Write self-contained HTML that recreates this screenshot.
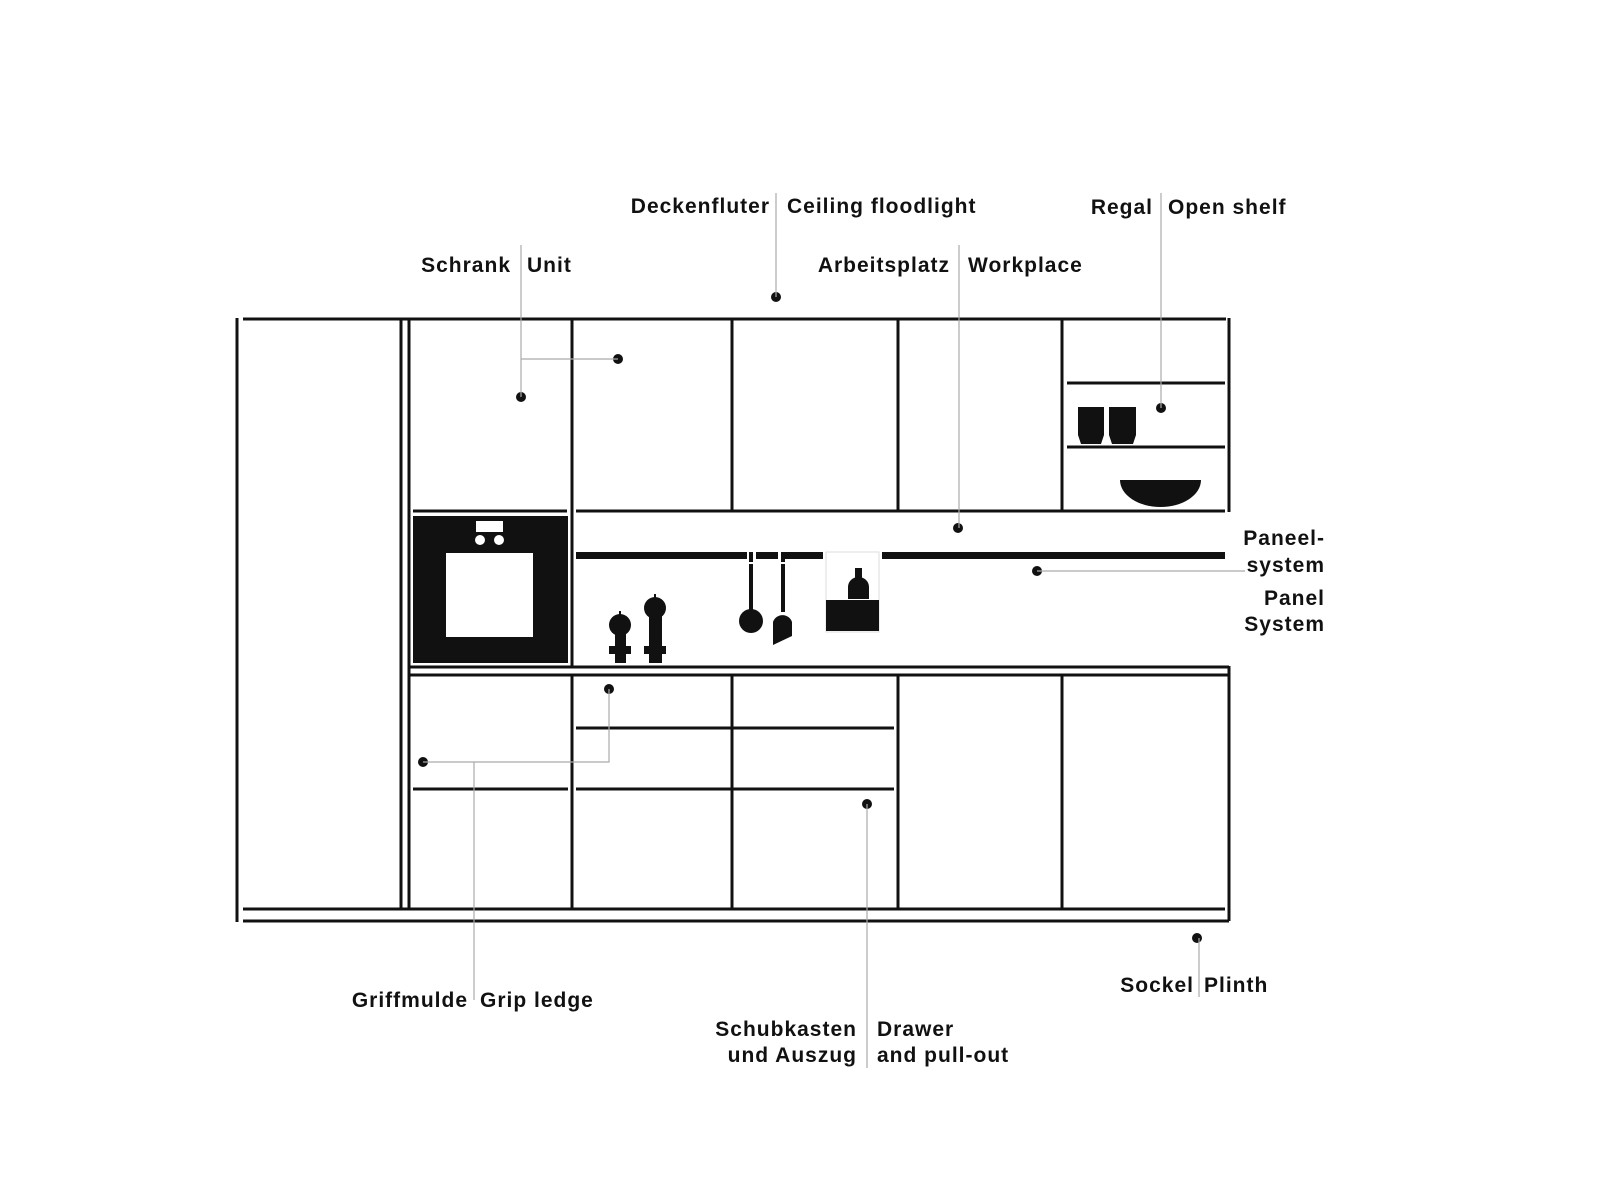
<!DOCTYPE html>
<html><head><meta charset="utf-8"><style>
html,body{margin:0;padding:0;background:#fff;}
svg{display:block;}
text{font-family:"Liberation Sans",sans-serif;font-weight:bold;font-size:21px;fill:#111;letter-spacing:1px;}
</style></head><body>
<svg width="1600" height="1200" viewBox="0 0 1600 1200" xmlns="http://www.w3.org/2000/svg">
<g stroke="#111" stroke-width="3" fill="none">
<line x1="237" y1="318" x2="237" y2="922"/>
<line x1="243" y1="319" x2="1226" y2="319"/>
<line x1="1229" y1="318" x2="1229" y2="512"/>
<line x1="1229" y1="666" x2="1229" y2="921"/>
<line x1="401" y1="319" x2="401" y2="909"/>
<line x1="409" y1="319" x2="409" y2="909"/>
<line x1="572" y1="319" x2="572" y2="667"/>
<line x1="732" y1="319" x2="732" y2="511"/>
<line x1="898" y1="319" x2="898" y2="511"/>
<line x1="1062" y1="319" x2="1062" y2="511"/>
<line x1="572" y1="675" x2="572" y2="909"/>
<line x1="732" y1="675" x2="732" y2="909"/>
<line x1="898" y1="675" x2="898" y2="909"/>
<line x1="1062" y1="675" x2="1062" y2="909"/>
<line x1="576" y1="511" x2="1225" y2="511"/>
<line x1="413" y1="511" x2="567" y2="511"/>
<line x1="409" y1="667" x2="1229" y2="667"/>
<line x1="409" y1="675" x2="1229" y2="675"/>
<line x1="243" y1="909" x2="1225" y2="909"/>
<line x1="243" y1="921" x2="1229" y2="921"/>
<line x1="1067" y1="383" x2="1225" y2="383"/>
<line x1="1067" y1="447" x2="1225" y2="447"/>
<line x1="576" y1="728" x2="894" y2="728"/>
<line x1="576" y1="789" x2="894" y2="789"/>
<line x1="413" y1="789" x2="568" y2="789"/>
</g>
<g fill="#111">
<rect x="413" y="516" width="155" height="147"/>
<rect x="446" y="553" width="87" height="84" fill="#fff"/>
<rect x="476" y="521" width="27" height="11" fill="#fff"/>
<circle cx="480" cy="540" r="5" fill="#fff"/>
<circle cx="499" cy="540" r="5" fill="#fff"/>
<rect x="576" y="552" width="171" height="7"/>
<rect x="756" y="552" width="22" height="7"/>
<rect x="785" y="552" width="38" height="7"/>
<rect x="882" y="552" width="343" height="7"/>
<rect x="749" y="552" width="4" height="10"/>
<rect x="781" y="552" width="4" height="10"/>
<rect x="749" y="564" width="4" height="48"/>
<circle cx="751" cy="621" r="12"/>
<rect x="781" y="564" width="4" height="48"/>
<path d="M773 622 A10 10 0 0 1 792 622 L792 636 L773 645 Z"/>
<rect x="826" y="552" width="53" height="80" fill="none" stroke="#ddd" stroke-width="1"/>
<rect x="826" y="600" width="53" height="31"/>
<rect x="855" y="568" width="7" height="10"/>
<path d="M848 599 L848 587 A10.5 10 0 0 1 869 587 L869 599 Z"/>
<circle cx="620" cy="625" r="11"/>
<rect x="615" y="620" width="11" height="43"/>
<rect x="609" y="646" width="22" height="8"/>
<rect x="619" y="611" width="2" height="4"/>
<circle cx="655" cy="608" r="11"/>
<rect x="649" y="608" width="13" height="55"/>
<rect x="644" y="646" width="22" height="8"/>
<rect x="654" y="594" width="2" height="4"/>
<path d="M1078 407 L1104 407 L1104 435 L1101 444 L1081 444 L1078 435 Z"/>
<path d="M1109 407 L1136 407 L1136 435 L1133 444 L1112 444 L1109 435 Z"/>
<path d="M1120 480 L1201 480 A40.5 27 0 0 1 1120 480 Z"/>
<circle cx="776" cy="297" r="5"/>
<circle cx="521" cy="397" r="5"/>
<circle cx="618" cy="359" r="5"/>
<circle cx="1161" cy="408" r="5"/>
<circle cx="958" cy="528" r="5"/>
<circle cx="1037" cy="571" r="5"/>
<circle cx="609" cy="689" r="5"/>
<circle cx="423" cy="762" r="5"/>
<circle cx="867" cy="804" r="5"/>
<circle cx="1197" cy="938" r="5"/>
</g>
<g stroke="#aaa" stroke-width="1.2" fill="none">
<line x1="776" y1="193" x2="776" y2="297"/>
<polyline points="521,245 521,397"/>
<line x1="521" y1="359" x2="618" y2="359"/>
<line x1="959" y1="245" x2="959" y2="528"/>
<line x1="1161" y1="193" x2="1161" y2="408"/>
<line x1="1037" y1="571" x2="1245" y2="571"/>
<polyline points="423,762 609,762 609,689"/>
<line x1="474" y1="762" x2="474" y2="1000"/>
<line x1="867" y1="804" x2="867" y2="1068"/>
<line x1="1199" y1="938" x2="1199" y2="997"/>
</g>
<text x="770" y="213" text-anchor="end">Deckenfluter</text>
<text x="787" y="213">Ceiling floodlight</text>
<text x="1153" y="214" text-anchor="end">Regal</text>
<text x="1168" y="214">Open shelf</text>
<text x="511" y="272" text-anchor="end">Schrank</text>
<text x="527" y="272">Unit</text>
<text x="950" y="272" text-anchor="end">Arbeitsplatz</text>
<text x="968" y="272">Workplace</text>
<text x="1325" y="545" text-anchor="end">Paneel-</text>
<text x="1325" y="572" text-anchor="end">system</text>
<text x="1325" y="605" text-anchor="end">Panel</text>
<text x="1325" y="631" text-anchor="end">System</text>
<text x="468" y="1007" text-anchor="end">Griffmulde</text>
<text x="480" y="1007">Grip ledge</text>
<text x="857" y="1036" text-anchor="end">Schubkasten</text>
<text x="857" y="1062" text-anchor="end">und Auszug</text>
<text x="877" y="1036">Drawer</text>
<text x="877" y="1062">and pull-out</text>
<text x="1194" y="992" text-anchor="end">Sockel</text>
<text x="1204" y="992">Plinth</text>
</svg>
</body></html>
